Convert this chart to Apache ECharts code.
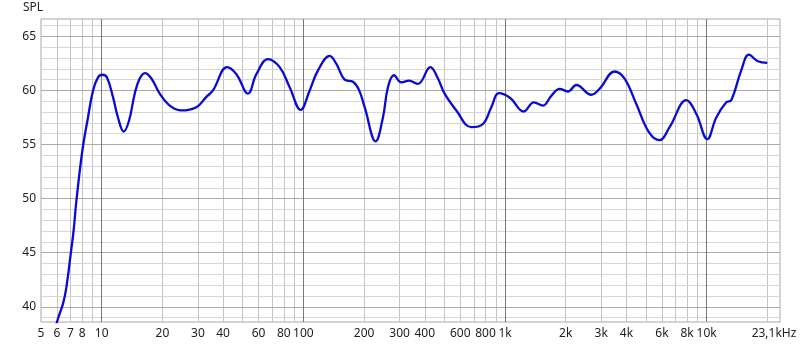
<!DOCTYPE html>
<html><head><meta charset="utf-8">
<script src="https://cdn.jsdelivr.net/npm/echarts@6/dist/echarts.min.js"></script>
<style>html,body{margin:0;padding:0;background:#fff}#c{width:800px;height:347px}</style>
</head><body><div id="c"></div>
<script>
// Frequency response data (Hz, dB SPL)
const freqs = [5.9, 6.0, 6.43, 6.68, 7.02, 7.26, 7.49, 8.02, 8.55, 9.06, 9.59, 10.08, 10.62, 11.37, 12.04, 12.85, 13.66, 14.58, 15.43, 16.39, 17.64, 19.4, 21.74, 24.84, 29.48, 33.04, 35.63, 41.81, 46.54, 53.13, 58.48, 66.76, 76.29, 85.52, 96.97, 107.5, 118.2, 135, 145.8, 160.2, 176.2, 188.7, 201.4, 228.3, 248.1, 262.7, 281.3, 306.1, 333.9, 370.1, 426.3, 464.9, 501.8, 573.6, 680.7, 777, 855.2, 932.8, 1060, 1237, 1391, 1541, 1696, 1865, 2050, 2257, 2679, 2944, 3494, 3917, 4477, 5170, 5843, 6548, 7925, 8880, 10070, 11160, 12510, 13240, 14840, 16190, 17940, 19970];
const spl = [37.8, 38.6, 40.3, 41.8, 44.9, 47.1, 49.8, 54.45, 57.5, 60.0, 61.2, 61.45, 61.2, 59.4, 57.5, 56.2, 57.2, 59.7, 61.1, 61.6, 61.1, 59.7, 58.6, 58.15, 58.45, 59.4, 60.0, 62.15, 61.5, 59.7, 61.5, 62.9, 62.15, 60.3, 58.2, 60.0, 61.85, 63.2, 62.45, 61.0, 60.8, 60.05, 58.45, 55.3, 57.5, 60.3, 61.4, 60.75, 60.9, 60.6, 62.15, 61.1, 59.7, 58.15, 56.6, 56.9, 58.45, 59.75, 59.3, 58.05, 58.9, 58.6, 59.5, 60.15, 59.9, 60.5, 59.6, 60.15, 61.75, 61.1, 58.75, 56.15, 55.4, 56.6, 59.1, 57.85, 55.5, 57.5, 58.9, 59.1, 61.85, 63.3, 62.7, 62.55];

const xMin = 5, xMax = 23100;
const yMin = 38.6, yMax = 66.6;
const xGridMinor = [6,7,8,9,20,30,40,50,60,70,80,90,200,300,400,500,600,700,800,900,2000,3000,4000,5000,6000,7000,8000,9000,20000];
const xGridMajor = [10,100,1000,10000];
const xTickValues = [5,6,7,8,10,20,30,40,60,80,100,200,300,400,600,800,1000,2000,3000,4000,6000,8000,10000,23100];
const xTickTexts = ['5','6','7','8','10','20','30','40','60','80','100','200','300','400','600','800','1k','2k','3k','4k','6k','8k','10k','23,1kHz'];
const yGridMinor = [39,41,42,43,44,46,47,48,49,51,52,53,54,56,57,58,59,61,62,63,64,66];
const yTickValues = [40,45,50,55,60,65];

const labelStyle = {color:'#222', fontSize:12, fontFamily:'Noto Sans'};
const lineData = [];
xGridMinor.forEach(v => lineData.push({xAxis:v, lineStyle:{color:'#c4c4c4', width:1, type:'solid'}, label:{show:false}}));
yGridMinor.forEach(v => lineData.push({yAxis:v, lineStyle:{color:'#d6d6d6', width:1, type:'solid'}, label:{show:false}}));
yTickValues.forEach(v => lineData.push({yAxis:v, lineStyle:{color:'#ababab', width:1, type:'solid'},
  label:Object.assign({show:true, position:'start', distance:5, formatter:String(v)}, labelStyle)}));
xGridMajor.forEach(v => lineData.push({xAxis:v, lineStyle:{color:'#7a7a7a', width:1, type:'solid'}, label:{show:false}}));
const tickLabelData = xTickValues.map((v,i) => ({xAxis:v, lineStyle:{color:'rgba(0,0,0,0)', width:1, type:'solid'},
  label:Object.assign({show:true, position:'start', distance:6, formatter:xTickTexts[i],
    offset: i === xTickValues.length-1 ? [-6,0] : [0,0]}, labelStyle)}));

const chart = echarts.init(document.getElementById('c'), null, {renderer:'canvas'});
chart.setOption({
  animation:false,
  title:{text:'SPL', left:18, top:-3, textStyle:{color:'#222', fontSize:12, fontWeight:'normal', fontFamily:'Noto Sans'}},
  grid:{left:41, right:20, top:19, bottom:25, show:true, borderColor:'#a8a8a8', borderWidth:1, backgroundColor:'#fff'},
  xAxis:{type:'log', logBase:10, min:xMin, max:xMax, axisLine:{show:false}, axisTick:{show:false}, axisLabel:{show:false}, splitLine:{show:false}, minorSplitLine:{show:false}},
  yAxis:{type:'value', min:yMin, max:yMax, axisLine:{show:false}, axisTick:{show:false}, axisLabel:{show:false}, splitLine:{show:false}},
  series:[
    {type:'line', data:[], z:1, silent:true,
     markLine:{silent:true, symbol:['none','none'], animation:false, data:lineData}},
    {type:'line', data:[], z:1, silent:true,
     markLine:{silent:true, symbol:['none','none'], animation:false, data:tickLabelData}},
    {type:'line', z:5, data:freqs.map((f,i)=>[f, spl[i]]), smooth:0.4, showSymbol:false, symbol:'none', clip:true,
     lineStyle:{color:'#0a0ad2', width:2.3}}
  ]
});
</script></body></html>
